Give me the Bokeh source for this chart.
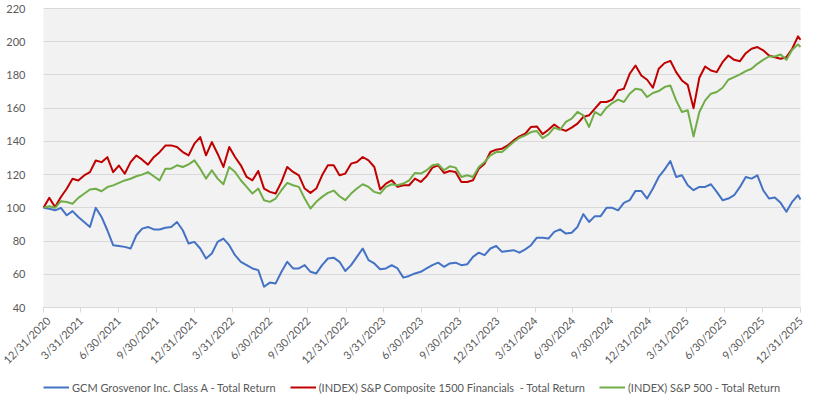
import pandas as pd
from math import pi
from bokeh.plotting import figure
from bokeh.models import FixedTicker, Legend, LegendItem, Range1d, BoxAnnotation
from bokeh.embed import file_html
from bokeh.resources import INLINE

# ---- data -------------------------------------------------------------
tick_labels = ["12/31/2020", "3/31/2021", "6/30/2021", "9/30/2021", "12/31/2021",
               "3/31/2022", "6/30/2022", "9/30/2022", "12/31/2022", "3/31/2023",
               "6/30/2023", "9/30/2023", "12/31/2023", "3/31/2024", "6/30/2024",
               "9/30/2024", "12/31/2024", "3/31/2025", "6/30/2025", "9/30/2025",
               "12/31/2025"]
y_ticks = [40, 60, 80, 100, 120, 140, 160, 180, 200, 220]

series_names = ["GCM Grosvenor Inc. Class A - Total Return",
                "(INDEX) S&P Composite 1500 Financials  - Total Return",
                "(INDEX) S&P 500 - Total Return"]

# bi-weekly observations from 12/31/2020, plus the final 12/31/2025 value
dates = list(pd.date_range("2020-12-31", periods=131, freq="14D")) + [pd.Timestamp("2025-12-31")]

gcm = [100, 99.5, 98.5, 100, 95.5, 98, 94.5, 91.5, 88.5, 100,
       94.5, 86.5, 77.5, 77, 76.5, 75.5, 83.5, 87.5, 88.5, 87,
       87, 88, 88.5, 91.5, 86.5, 78.5, 79.5, 75.5, 69.5, 72.5,
       79.5, 81.5, 77.5, 71.5, 67.5, 65.5, 63.5, 62.5, 52.5, 55,
       54.5, 61.5, 67.5, 63.5, 63.5, 65.5, 61.5, 60.5, 65.5, 69.5,
       70, 67.5, 62, 65.5, 70.5, 75.5, 68.5, 66.5, 63, 63.5,
       65.5, 63.5, 58, 59, 60.5, 61.5, 63.5, 65.5, 67, 64.5,
       66.5, 67, 65.5, 66, 70.5, 73, 71.5, 75.5, 77, 73.5,
       74, 74.5, 73, 75, 77.5, 82, 82, 81.5, 85.5, 87,
       84.5, 85, 88.5, 96.2, 91.5, 95, 95, 100, 100, 98.5,
       103, 104.6, 110.2, 110.2, 105.6, 111.6, 118.6, 123, 128.2, 118.6,
       119.6, 113.6, 110.6, 112.6, 112.6, 114.2, 109.6, 104.6, 105.6, 107.6,
       112.6, 118.6, 117.6, 119.6, 110.6, 105.6, 106.2, 103, 97.6, 103.6,
       107.6, 105]

fin1500 = [100, 106, 100.5, 106.5, 111.5, 117.5, 116.5, 119.5, 121.5, 128.5,
           127.5, 130.5, 121.5, 125.5, 120.5, 127.5, 131.5, 129, 126, 130.5,
           133.5, 137.5, 137.6, 136.6, 133.6, 131.6, 138.6, 142.6, 131.6, 139.6,
           132.6, 124.6, 136.6, 130.6, 125.6, 118.6, 116.6, 122.2, 111.6, 109.6,
           108.6, 115.6, 124.6, 121.6, 119.6, 111.6, 109, 111.6, 119.6, 125.6,
           125.6, 119.6, 120.6, 126.6, 127.6, 130.6, 128.6, 124.6, 111, 114.6,
           116.6, 112.6, 113.6, 113.6, 117.6, 115.6, 119, 124.2, 125.6, 121,
           122.2, 121.6, 115.6, 115.6, 116.6, 123.6, 126.6, 133.6, 135, 135.6,
           137.6, 140.6, 143, 144.6, 148.7, 149, 144.4, 147, 150.2, 147.6,
           146.3, 148.3, 150.7, 154.7, 155.7, 159.7, 163.7, 163.7, 165.1, 170.7,
           171.7, 180.7, 185.7, 179.7, 177.1, 172.3, 183.7, 187.1, 188.5, 181.7,
           176.7, 174, 160, 178.3, 185.1, 182.7, 181.7, 187.7, 191.7, 189.1,
           188.3, 193.1, 195.8, 196.8, 194.8, 191.7, 190.7, 189.7, 190.7, 195.8,
           203.2, 201.2]

sp500 = [100, 101, 100, 104, 103.5, 102.5, 106, 108.5, 111, 111.5,
         110, 112.5, 113.5, 115, 116.5, 117.5, 119, 120, 121.5, 119,
         116.5, 123.5, 123.6, 125.6, 124.6, 126.2, 128.6, 123.6, 117.6, 122.6,
         117.6, 114.2, 124.6, 121.6, 116.6, 112.6, 108.6, 111.6, 104.6, 103.6,
         105.6, 110.6, 115, 113.6, 112.6, 105.6, 99.6, 103.6, 106.6, 109,
         110.4, 107, 104.6, 108.6, 111.6, 114.2, 112.6, 109.6, 108.6, 112.6,
         114.2, 113.6, 114.6, 116.6, 121, 120.6, 122.6, 125.6, 126.2, 122.6,
         125, 124.2, 118.6, 119.6, 118.6, 124.6, 127.6, 131.6, 133.6, 133.6,
         136.6, 139.6, 142.2, 143.6, 145.6, 146.2, 142, 144.2, 148.3, 147,
         151.7, 153.7, 157.7, 155.7, 148.7, 157.7, 155.7, 160.3, 163.1, 165.1,
         163.7, 168.7, 171.7, 171.1, 166.7, 169.1, 170.3, 172.7, 173.7, 164.7,
         157.7, 158.7, 143, 157.7, 164.7, 168.7, 169.7, 172.3, 177.1, 178.7,
         180.3, 182.3, 183.7, 186.7, 189.1, 191.1, 191.1, 192.3, 189.1, 195.2,
         198.4, 196.8]

colors = ["#4472c4", "#c00000", "#70ad47"]

# ---- layout geometry (pixels) ----------------------------------------
FIG_W, FIG_H = 805, 394
PAD_L, PAD_R = 43, 5          # room for y labels / right margin inside frame
PAD_T = 8                     # above the 220 line
BAND_H = 299                  # height of the 40..220 value band
PLOT_W = FIG_W - PAD_L - PAD_R

tick_dates = pd.to_datetime(tick_labels, format="%m/%d/%Y")
tick_ms = [int(t.value // 10**6) for t in tick_dates]
t0, t1 = tick_ms[0], tick_ms[-1]
y_lo, y_hi = y_ticks[0], y_ticks[-1]

ms_per_px = (t1 - t0) / PLOT_W
u_per_px = (y_hi - y_lo) / BAND_H
x_rng = Range1d(t0 - PAD_L * ms_per_px, t1 + PAD_R * ms_per_px)
y_rng = Range1d(y_lo - (FIG_H - PAD_T - BAND_H) * u_per_px, y_hi + PAD_T * u_per_px)

FONT = "Lato"
TXT = "#595959"

p = figure(width=FIG_W, height=FIG_H, x_axis_type="datetime",
           output_backend="svg", toolbar_location=None,
           x_range=x_rng, y_range=y_rng,
           min_border_left=0, min_border_right=0, min_border_top=0,
           min_border_bottom=0)
p.background_fill_color = "white"
p.border_fill_color = "white"
p.outline_line_color = None

# grey plot area over the value band only
p.add_layout(BoxAnnotation(left=t0, right=t1, bottom=y_lo, top=y_hi,
                           fill_color="#f2f2f2", fill_alpha=1,
                           line_color=None, level="image"))

p.xgrid.grid_line_color = None
p.ygrid.ticker = FixedTicker(ticks=y_ticks)
p.ygrid.grid_line_color = "#d9d9d9"
p.ygrid.grid_line_width = 1
try:
    p.ygrid[0].cross_bounds = (t0, t1)
except Exception:
    pass

p.xaxis.fixed_location = y_lo
p.xaxis.bounds = (t0, t1)
p.xaxis.ticker = FixedTicker(ticks=tick_ms)
p.xaxis.major_label_overrides = dict(zip(tick_ms, tick_labels))
p.xaxis.major_label_orientation = pi / 4
p.xaxis.axis_line_color = "#d9d9d9"
p.xaxis.major_tick_line_color = "#d9d9d9"
p.xaxis.major_tick_out = 5
p.xaxis.major_tick_in = 0
p.xaxis.minor_tick_line_color = None
p.xaxis.major_label_standoff = 6

p.yaxis.fixed_location = t0
p.yaxis.bounds = (y_lo, y_hi)
p.yaxis.ticker = FixedTicker(ticks=y_ticks)
p.yaxis.axis_line_color = None
p.yaxis.major_tick_line_color = None
p.yaxis.minor_tick_line_color = None
p.yaxis.major_label_standoff = 12

for ax in (p.xaxis, p.yaxis):
    ax.major_label_text_font = FONT
    ax.major_label_text_font_size = "11px"
    ax.major_label_text_color = TXT

renderers = []
for vals, c in zip([gcm, fin1500, sp500], colors):
    r = p.line(dates, vals, line_color=c, line_width=2, line_join="round")
    renderers.append(r)

legend = Legend(items=[LegendItem(label=n, renderers=[r]) for n, r in zip(series_names, renderers)],
                orientation="horizontal", location=(PAD_L, 0),
                glyph_width=26, glyph_height=14, label_height=14, label_standoff=3, spacing=14,
                padding=0, margin=0, border_line_color=None, background_fill_alpha=0,
                label_text_font=FONT, label_text_font_size="11px", label_text_color=TXT)
p.add_layout(legend, "center")

open("out.html", "w").write(file_html(p, INLINE))
